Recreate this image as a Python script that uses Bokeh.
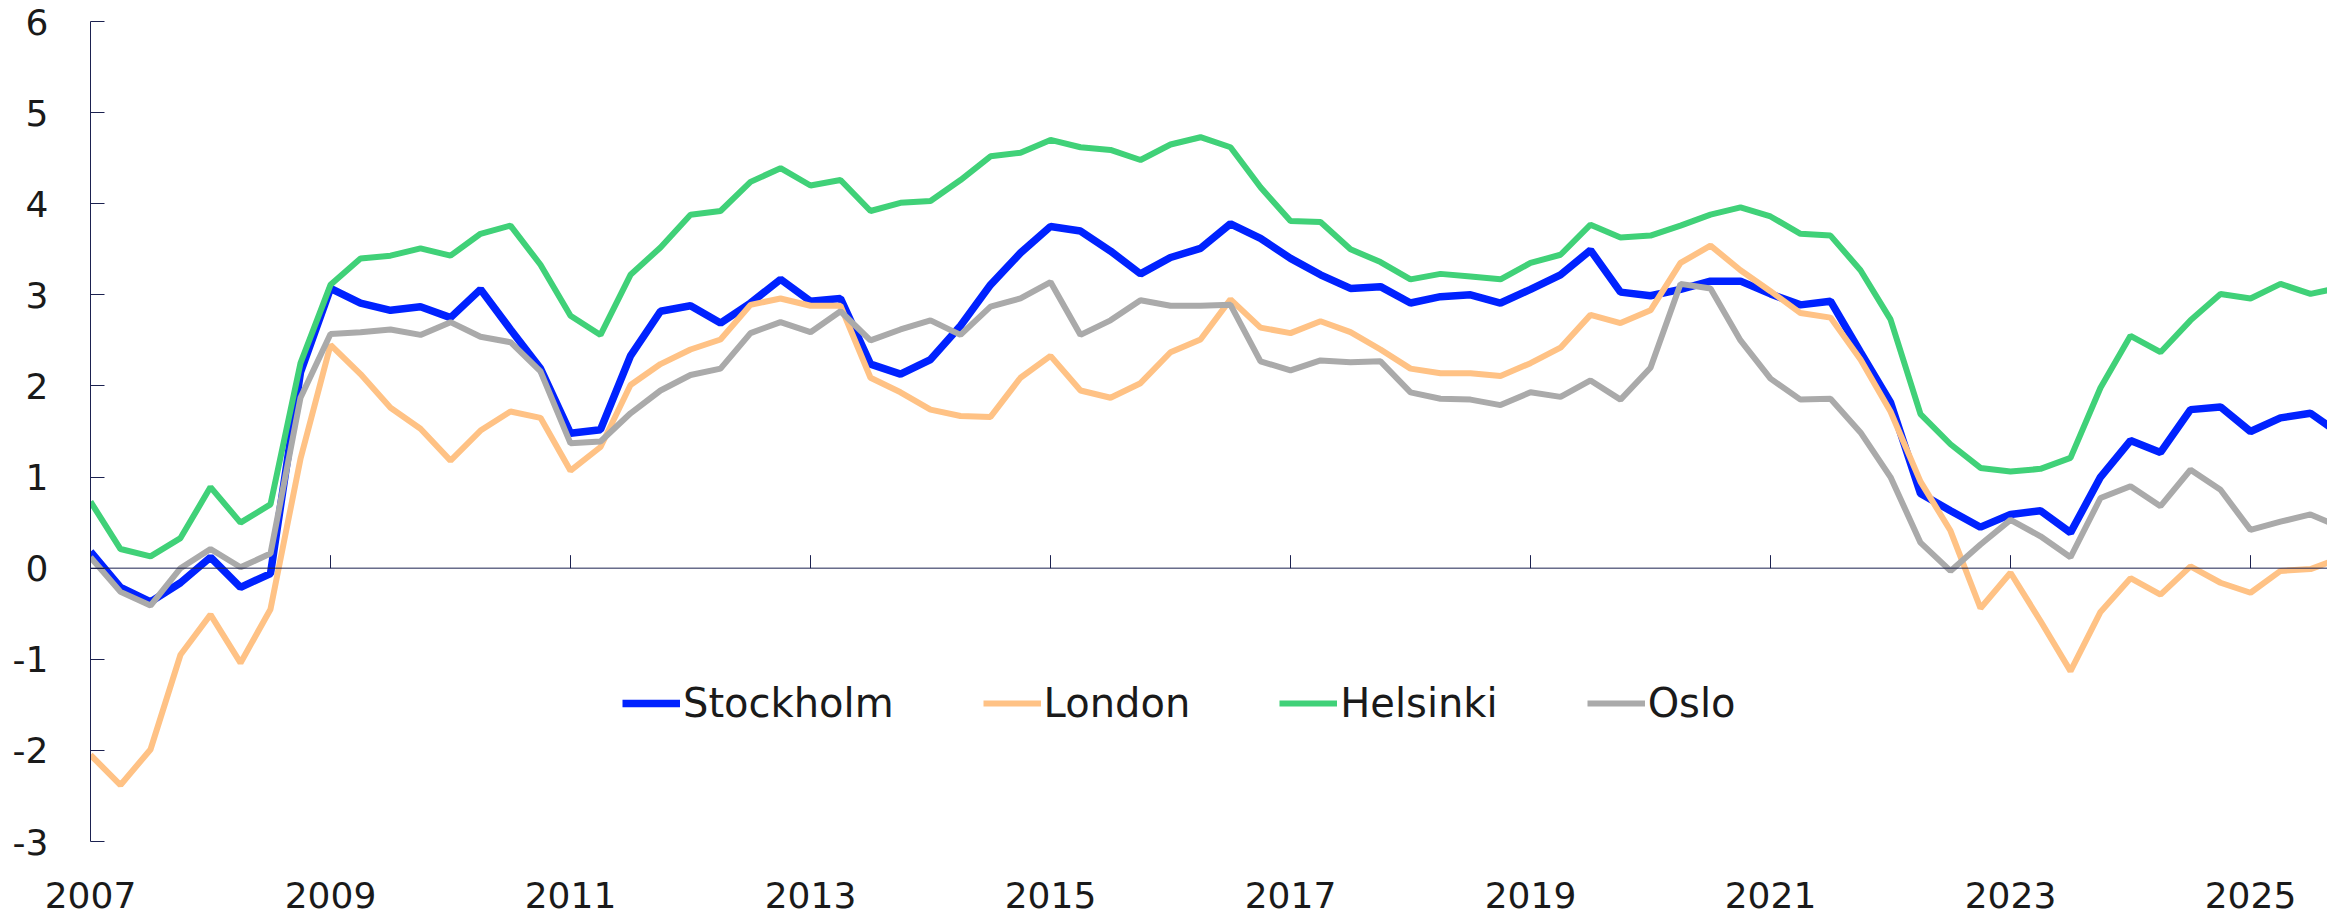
import math
from bokeh.plotting import figure
from bokeh.models import FixedTicker, Range1d, Legend, LegendItem, Span
from bokeh.embed import file_html
from bokeh.resources import INLINE

# Quarterly observations, 2007Q1 onwards
start_year = 2007
quarters = [start_year + 0.25 * i for i in range(76)]

stockholm = [0.18, -0.21, -0.37, -0.16, 0.12, -0.21, -0.06, 2.15, 3.07, 2.91,
             2.83, 2.87, 2.75, 3.06, 2.62, 2.19, 1.48, 1.52, 2.33, 2.82,
             2.88, 2.69, 2.91, 3.17, 2.93, 2.96, 2.24, 2.13, 2.29, 2.66,
             3.11, 3.46, 3.75, 3.70, 3.48, 3.23, 3.41, 3.51, 3.78, 3.62,
             3.40, 3.22, 3.07, 3.09, 2.91, 2.98, 3.00, 2.91, 3.06, 3.22,
             3.49, 3.03, 2.99, 3.06, 3.15, 3.15, 3.01, 2.89, 2.93, 2.37,
             1.82, 0.82, 0.63, 0.45, 0.59, 0.63, 0.39, 1.00, 1.40, 1.27,
             1.74, 1.77, 1.50, 1.65, 1.70, 1.47]

london = [-2.05, -2.38, -1.99, -0.95, -0.51, -1.04, -0.45, 1.20, 2.45, 2.13,
          1.76, 1.53, 1.18, 1.51, 1.72, 1.65, 1.07, 1.33, 2.01, 2.24,
          2.40, 2.51, 2.89, 2.96, 2.88, 2.88, 2.09, 1.93, 1.74, 1.67,
          1.66, 2.09, 2.33, 1.95, 1.87, 2.03, 2.37, 2.51, 2.95, 2.64,
          2.58, 2.71, 2.59, 2.40, 2.19, 2.14, 2.14, 2.11, 2.25, 2.42,
          2.78, 2.69, 2.83, 3.35, 3.54, 3.27, 3.04, 2.80, 2.75, 2.29,
          1.72, 0.95, 0.41, -0.44, -0.05, -0.58, -1.13, -0.48, -0.11, -0.29,
          0.02, -0.16, -0.27, -0.03, -0.01, 0.11]

helsinki = [0.73, 0.21, 0.13, 0.33, 0.89, 0.50, 0.70, 2.25, 3.11, 3.40,
            3.43, 3.51, 3.43, 3.67, 3.76, 3.33, 2.77, 2.56, 3.22, 3.52,
            3.88, 3.92, 4.24, 4.39, 4.20, 4.26, 3.92, 4.01, 4.03, 4.26,
            4.52, 4.56, 4.70, 4.62, 4.59, 4.48, 4.65, 4.73, 4.62, 4.18,
            3.81, 3.80, 3.50, 3.36, 3.17, 3.23, 3.20, 3.17, 3.35, 3.44,
            3.77, 3.63, 3.65, 3.76, 3.88, 3.96, 3.86, 3.67, 3.65, 3.27,
            2.73, 1.69, 1.36, 1.10, 1.06, 1.09, 1.21, 1.98, 2.55, 2.37,
            2.72, 3.01, 2.96, 3.12, 3.01, 3.08]

oslo = [0.12, -0.26, -0.41, 0.00, 0.21, 0.01, 0.16, 1.87, 2.57, 2.59,
        2.62, 2.56, 2.70, 2.54, 2.48, 2.16, 1.37, 1.39, 1.70, 1.95,
        2.12, 2.19, 2.58, 2.70, 2.59, 2.82, 2.50, 2.62, 2.72, 2.56,
        2.87, 2.96, 3.14, 2.56, 2.72, 2.94, 2.88, 2.88, 2.89, 2.27,
        2.17, 2.28, 2.26, 2.27, 1.93, 1.86, 1.85, 1.79, 1.93, 1.88,
        2.06, 1.85, 2.20, 3.12, 3.07, 2.50, 2.08, 1.85, 1.86, 1.49,
        1.00, 0.28, -0.03, 0.26, 0.53, 0.35, 0.12, 0.77, 0.90, 0.68,
        1.08, 0.86, 0.42, 0.51, 0.59, 0.45]

series_names = ["Stockholm", "London", "Helsinki", "Oslo"]
series_values = [stockholm, london, helsinki, oslo]
series_colors = ["#0022FF", "#FFC285", "#40D178", "#AAAAAA"]
series_widths = [7.5, 6, 6, 6]

x_ticks = list(range(2007, 2026, 2))
y_ticks = list(range(-3, 7))

FONT = "DejaVu Sans"
AXIS_COLOR = "#1B2150"
TEXT_COLOR = "#1a1a1a"

W, H = 2327, 918
LEFT, TOP, BOTTOM = 90, 21, 77
px_per_year = 120.0
x_end = start_year + (W - LEFT) / px_per_year

p = figure(width=W, height=H, output_backend="svg", toolbar_location=None,
           x_range=Range1d(start_year, x_end), y_range=Range1d(-3, 6),
           x_axis_location="below", y_axis_location="left",
           min_border_left=LEFT, min_border_right=0,
           min_border_top=TOP, min_border_bottom=BOTTOM,
           background_fill_color="white", border_fill_color="white")
p.outline_line_color = None
p.xgrid.visible = False
p.ygrid.visible = False

# y axis
yax = p.yaxis[0]
yax.ticker = FixedTicker(ticks=y_ticks)
yax.major_tick_in = 14
yax.major_tick_out = 0
yax.minor_tick_line_color = None
yax.axis_line_color = AXIS_COLOR
yax.major_tick_line_color = AXIS_COLOR
yax.major_label_standoff = 42
yax.major_label_text_font = FONT
yax.major_label_text_font_size = "36px"
yax.major_label_text_color = TEXT_COLOR
yax.major_label_overrides = {t: ("-%d" % -t if t < 0 else str(t)) for t in y_ticks}

# year labels at bottom
xax = p.xaxis[0]
xax.ticker = FixedTicker(ticks=x_ticks)
xax.axis_line_color = None
xax.major_tick_line_color = None
xax.minor_tick_line_color = None
xax.major_tick_in = 0
xax.major_tick_out = 0
xax.major_label_standoff = 40
xax.major_label_text_font = FONT
xax.major_label_text_font_size = "36px"
xax.major_label_text_line_height = 0.6
xax.major_label_text_color = TEXT_COLOR

# zero line with upward year ticks
p.add_layout(Span(location=0, dimension="width", line_color=AXIS_COLOR, line_width=1))
p.ray(x=x_ticks, y=[0] * len(x_ticks), length=13, length_units="screen",
      angle=math.pi / 2, line_color=AXIS_COLOR, line_width=1)

items = []
for name, vals, col, lw in zip(series_names, series_values, series_colors, series_widths):
    r = p.line(quarters, vals, line_color=col, line_width=lw)
    items.append(LegendItem(label=name, renderers=[r]))

legend = Legend(items=items, orientation="horizontal", location=(532, 114),
                glyph_width=58, glyph_height=48, label_height=48,
                label_standoff=3, spacing=89, padding=0, margin=0,
                border_line_color=None, background_fill_alpha=0,
                label_text_font=FONT, label_text_font_size="40px",
                label_text_color=TEXT_COLOR)
p.add_layout(legend)

open("out.html", "w").write(file_html(p, INLINE))
